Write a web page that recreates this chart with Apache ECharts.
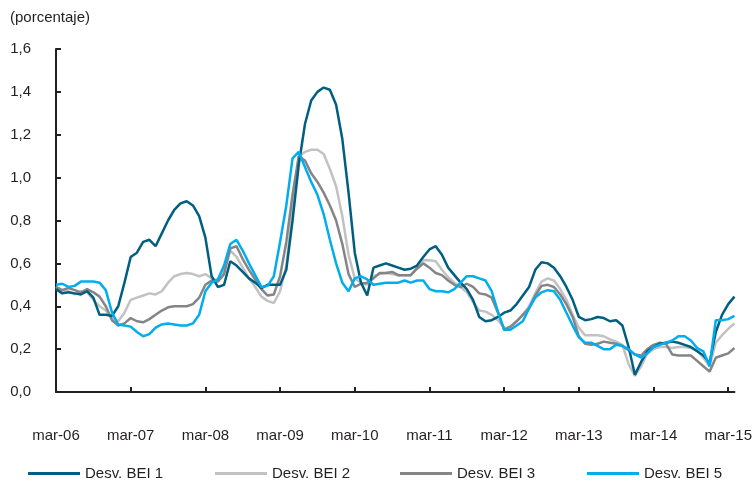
<!DOCTYPE html>
<html>
<head>
<meta charset="utf-8">
<script src="https://cdn.jsdelivr.net/npm/echarts@6/dist/echarts.min.js"></script>
<style>html,body{margin:0;padding:0;background:#fff}#c{width:755px;height:486px}</style>
</head>
<body>
<div id="c"></div>
<script>
// Monthly, mar-06 .. abr-15
const monthNames = ['mar','abr','may','jun','jul','ago','sep','oct','nov','dic','ene','feb'];
const tickLabels = ['mar-06','mar-07','mar-08','mar-09','mar-10','mar-11','mar-12','mar-13','mar-14','mar-15'];
const seriesNames = ['Desv. BEI 1','Desv. BEI 2','Desv. BEI 3','Desv. BEI 5'];

const bei1 = [0.48,0.46,0.465,0.46,0.455,0.47,0.44,0.36,0.36,0.355,0.40,0.51,0.63,0.65,0.70,0.71,0.68,0.74,0.80,0.85,0.88,0.89,0.87,0.82,0.72,0.54,0.49,0.50,0.61,0.59,0.56,0.53,0.51,0.485,0.50,0.50,0.50,0.57,0.80,1.06,1.25,1.36,1.40,1.42,1.41,1.34,1.18,0.93,0.65,0.51,0.45,0.58,0.59,0.60,0.59,0.58,0.57,0.575,0.59,0.63,0.665,0.68,0.64,0.58,0.545,0.51,0.48,0.43,0.35,0.33,0.335,0.35,0.37,0.38,0.41,0.45,0.49,0.57,0.605,0.60,0.58,0.54,0.49,0.43,0.35,0.335,0.34,0.35,0.345,0.33,0.335,0.31,0.21,0.08,0.14,0.19,0.21,0.225,0.23,0.235,0.23,0.22,0.21,0.19,0.17,0.135,0.28,0.36,0.41,0.445];
const bei2 = [0.49,0.47,0.47,0.455,0.47,0.465,0.43,0.40,0.38,0.345,0.33,0.37,0.43,0.44,0.45,0.46,0.455,0.47,0.51,0.54,0.55,0.555,0.55,0.54,0.55,0.53,0.52,0.57,0.66,0.63,0.58,0.53,0.49,0.445,0.425,0.415,0.47,0.59,0.85,1.10,1.12,1.13,1.13,1.11,1.04,0.96,0.82,0.64,0.53,0.51,0.50,0.54,0.55,0.555,0.55,0.545,0.545,0.545,0.58,0.615,0.615,0.61,0.57,0.535,0.51,0.49,0.465,0.42,0.38,0.375,0.36,0.335,0.30,0.30,0.33,0.36,0.40,0.46,0.515,0.53,0.52,0.48,0.43,0.36,0.30,0.265,0.265,0.265,0.26,0.245,0.235,0.22,0.13,0.075,0.12,0.18,0.20,0.21,0.21,0.205,0.21,0.21,0.205,0.195,0.16,0.12,0.23,0.265,0.295,0.32];
const bei3 = [0.49,0.475,0.485,0.475,0.465,0.48,0.465,0.445,0.40,0.335,0.31,0.32,0.345,0.33,0.325,0.34,0.36,0.38,0.395,0.40,0.40,0.40,0.41,0.44,0.50,0.52,0.515,0.55,0.67,0.68,0.62,0.57,0.525,0.48,0.45,0.455,0.54,0.70,0.92,1.10,1.08,1.02,0.98,0.93,0.87,0.80,0.69,0.55,0.49,0.505,0.51,0.53,0.555,0.555,0.56,0.545,0.545,0.545,0.575,0.60,0.58,0.555,0.545,0.52,0.50,0.49,0.505,0.49,0.46,0.455,0.44,0.37,0.29,0.305,0.33,0.36,0.39,0.45,0.495,0.50,0.49,0.455,0.41,0.35,0.26,0.225,0.22,0.225,0.235,0.23,0.225,0.215,0.195,0.175,0.17,0.20,0.22,0.23,0.225,0.175,0.17,0.17,0.17,0.145,0.12,0.095,0.16,0.17,0.18,0.205];
const bei5 = [0.50,0.505,0.49,0.495,0.515,0.515,0.515,0.51,0.475,0.37,0.315,0.31,0.305,0.28,0.26,0.27,0.30,0.315,0.32,0.315,0.31,0.31,0.32,0.36,0.47,0.51,0.525,0.59,0.69,0.71,0.66,0.60,0.545,0.49,0.495,0.54,0.70,0.87,1.09,1.12,1.05,0.98,0.92,0.83,0.71,0.60,0.51,0.47,0.53,0.54,0.525,0.50,0.505,0.51,0.51,0.51,0.52,0.51,0.52,0.52,0.48,0.47,0.47,0.465,0.48,0.51,0.54,0.54,0.53,0.52,0.47,0.375,0.29,0.29,0.31,0.33,0.39,0.44,0.465,0.475,0.47,0.43,0.37,0.31,0.255,0.23,0.23,0.215,0.20,0.20,0.22,0.215,0.20,0.175,0.16,0.18,0.21,0.22,0.23,0.24,0.26,0.26,0.24,0.205,0.19,0.12,0.335,0.335,0.34,0.355];

const colors = {'Desv. BEI 1':'#005f80','Desv. BEI 2':'#c2c2c4','Desv. BEI 3':'#858587','Desv. BEI 5':'#00aeef'};

const categories = [];
for (let i = 0; i < bei1.length; i++) {
  const mi = i % 12;
  const yr = 6 + Math.floor((i + 2) / 12);
  categories.push(monthNames[mi] + '-' + String(yr).padStart(2, '0'));
}

const chart = echarts.init(document.getElementById('c'), null, {renderer: 'canvas'});
const txt = '#231f20';
const font = '"Liberation Sans", Arial, Helvetica, sans-serif';
const legendLefts = [23, 210, 395, 582];

chart.setOption({
  animation: false,
  textStyle: {fontFamily: font},
  title: {text: '(porcentaje)', left: 5, top: 5, textStyle: {fontSize: 15, fontWeight: 'normal', color: txt, fontFamily: font}},
  grid: {left: 56, right: 18, top: 49, bottom: 94, containLabel: false},
  legend: seriesNames.map((n, i) => ({
    data: [n], left: legendLefts[i], top: 461, icon: 'rect', itemWidth: 52, itemHeight: 3,
    textStyle: {fontSize: 15, color: txt, fontFamily: font}, selectedMode: false
  })),
  xAxis: {
    type: 'category', data: categories, boundaryGap: false,
    axisLine: {lineStyle: {color: txt, width: 2}},
    axisTick: {inside: true, length: 5, lineStyle: {color: txt, width: 2}, interval: (i) => i % 12 === 0},
    axisLabel: {interval: (i) => i % 12 === 0, margin: 36, fontSize: 15, color: txt, fontFamily: font,
      formatter: (v, i) => tickLabels[i / 12] || ''},
    splitLine: {show: false}
  },
  yAxis: {
    type: 'value', min: 0, max: 1.6, interval: 0.2,
    axisLine: {show: true, lineStyle: {color: txt, width: 2}},
    axisTick: {show: true, inside: true, length: 5, lineStyle: {color: txt, width: 2}},
    axisLabel: {margin: 25, fontSize: 15, color: txt, fontFamily: font,
      formatter: (v) => v.toFixed(1).replace('.', ',')},
    splitLine: {show: false}
  },
  series: [
    ['Desv. BEI 2', bei2], ['Desv. BEI 3', bei3], ['Desv. BEI 1', bei1], ['Desv. BEI 5', bei5]
  ].map(([n, d]) => ({
    name: n, type: 'line', data: d, showSymbol: false, symbol: 'none',
    lineStyle: {width: 2.5, color: colors[n]}, itemStyle: {color: colors[n]}
  }))
});
</script>
</body>
</html>
